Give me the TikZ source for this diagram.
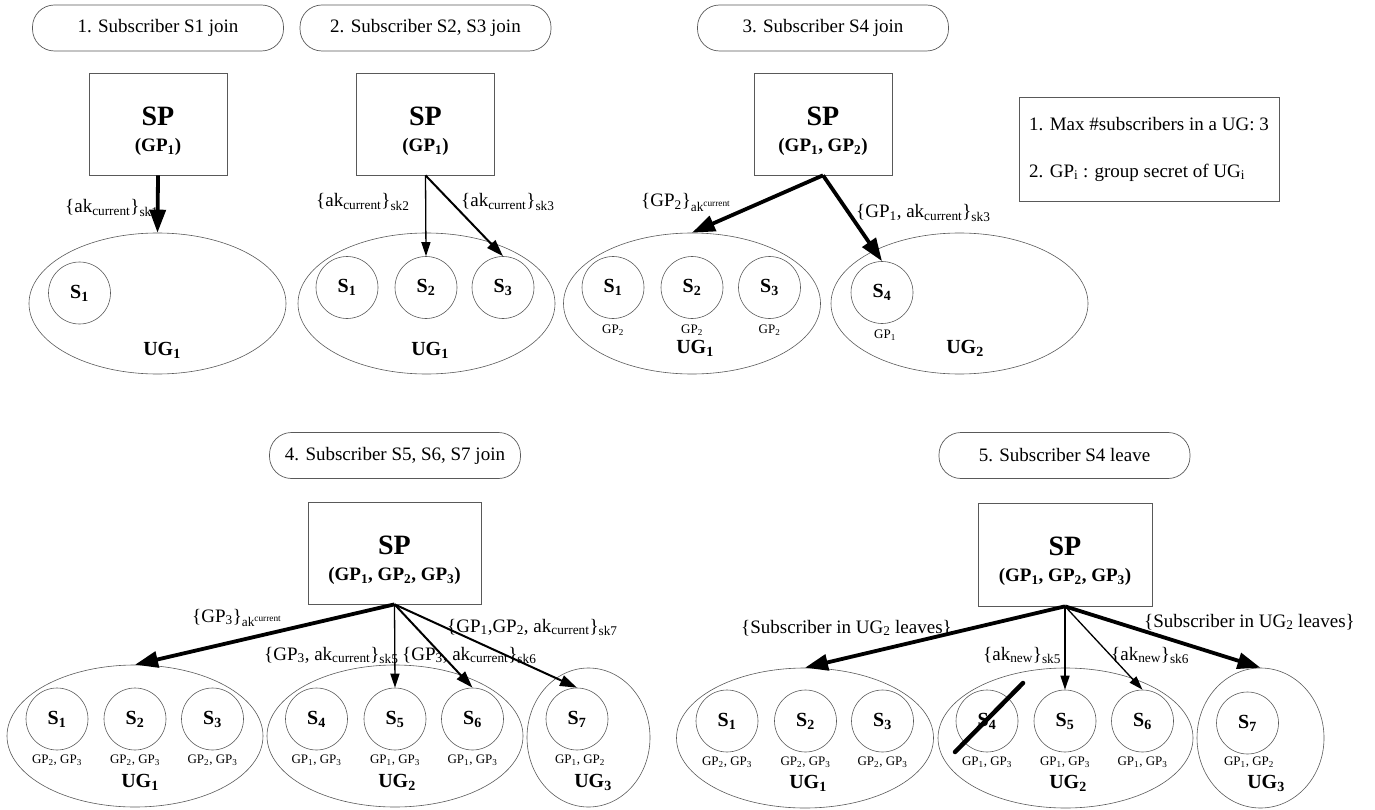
\documentclass[tikz,border=0pt]{standalone}
\usepackage{fontspec}
\setmainfont{Liberation Serif}
\usetikzlibrary{shapes.geometric,arrows.meta}

\begin{document}
\begin{tikzpicture}[x=1pt,y=-1pt,
	pill/.style={draw=black!65,line width=0.7pt,rounded corners=22pt,minimum width=251pt,minimum height=46pt,inner sep=0pt,font=\fontsize{19}{22}\selectfont},
	spbox/.style={draw=black!65,line width=0.7pt,minimum width=138pt,minimum height=102pt,inner sep=0pt,align=center,font=\fontsize{19}{22}\selectfont\bfseries},
	grp/.style={draw=black!65,line width=0.6pt,ellipse,inner sep=0pt,minimum width=257pt,minimum height=141pt},
	subsc/.style={draw=black!65,line width=0.6pt,circle,inner sep=0pt,minimum size=62pt,font=\fontsize{20}{22}\selectfont\bfseries},
	gp/.style={inner sep=0pt,font=\fontsize{13}{15}\selectfont},
	ug/.style={inner sep=0pt,font=\fontsize{20}{22}\selectfont\bfseries},
	lbl/.style={inner sep=0pt,anchor=base west,font=\fontsize{19}{22}\selectfont},
	msg/.style={line width=1.3pt,-{Triangle[length=14pt,width=9pt]}},
	msgmid/.style={line width=2pt,-{Triangle[length=17pt,width=11pt]}},
	msgbold/.style={line width=3.8pt,-{Triangle[length=23pt,width=16pt]}}]
\useasboundingbox (0,0) rectangle (1375,810);
\newcommand{\splabel}[1]{\rule{0pt}{33pt}{\fontsize{28}{30}\selectfont SP}\\[4pt](#1)}

%Panel 1: Subscriber S1 join
\node[pill] (t1) at (158,28) {1. Subscriber S1 join};
\node[spbox] (sp1) at (158,124) {\splabel{GP\textsubscript{1}}};
\node[grp] (a1ug1) at (157.5,303.5) {};
\node[subsc] (a1s1) at (79.5,293) {S\textsubscript{1}};
\node[ug] (a1u1) at (162,350) {UG\textsubscript{1}};
\node[lbl] (a1l1) at (65,213) {\{ak\textsubscript{current}\}\textsubscript{sk1}};
\draw[msgbold] (sp1.south) -- (a1ug1.north);

%Panel 2: Subscriber S2, S3 join
\node[pill] (t2) at (425.5,28) {2. Subscriber S2, S3 join};
\node[spbox] (sp2) at (425.5,124) {\splabel{GP\textsubscript{1}}};
\node[grp] (a2ug1) at (426.5,303.5) {};
\node[subsc] (a2s1) at (347,287.5) {S\textsubscript{1}};
\node[subsc] (a2s2) at (426,287.5) {S\textsubscript{2}};
\node[subsc] (a2s3) at (503,287.5) {S\textsubscript{3}};
\node[ug] (a2u1) at (430,350) {UG\textsubscript{1}};
\node[lbl] (a2l2) at (316,207) {\{ak\textsubscript{current}\}\textsubscript{sk2}};
\node[lbl] (a2l3) at (461,207) {\{ak\textsubscript{current}\}\textsubscript{sk3}};
\draw[msg] (sp2.south) -- (a2s2.north);
\draw[msgmid] (sp2.south) -- (a2s3.north);

%Panel 3: Subscriber S4 join
\node[pill] (t3) at (823,28) {3. Subscriber S4 join};
\node[spbox] (sp3) at (823,124) {\splabel{GP\textsubscript{1}, GP\textsubscript{2}}};
\node[grp] (a3ug1) at (692,303.5) {};
\node[grp] (a3ug2) at (959.5,303.5) {};
\node[subsc] (a3s1) at (613,287.5) {S\textsubscript{1}};
\node[subsc] (a3s2) at (692,287.5) {S\textsubscript{2}};
\node[subsc] (a3s3) at (769.5,287.5) {S\textsubscript{3}};
\node[subsc] (a3s4) at (882,292.5) {S\textsubscript{4}};
\node[gp] (a3g1) at (613,330) {GP\textsubscript{2}};
\node[gp] (a3g2) at (692,330) {GP\textsubscript{2}};
\node[gp] (a3g3) at (769.5,330) {GP\textsubscript{2}};
\node[gp] (a3g4) at (885,335) {GP\textsubscript{1}};
\node[ug] (a3u1) at (695,348) {UG\textsubscript{1}};
\node[ug] (a3u2) at (965,348) {UG\textsubscript{2}};
\node[lbl] (a3l1) at (641,207) {\{GP\textsubscript{2}\}\textsubscript{ak\textsuperscript{current}}};
\node[lbl] (a3l2) at (856,218) {\{GP\textsubscript{1}, ak\textsubscript{current}\}\textsubscript{sk3}};
\draw[msgbold] (sp3.south) -- (a3ug1.north);
\draw[msgbold] (sp3.south) -- (a3s4.north);

%Legend
\node[draw=black!65,line width=0.7pt,minimum width=260pt,minimum height=104pt,align=left,font=\fontsize{19}{22}\selectfont] (legend) at (1149,149)
	{1. Max \#subscribers in a UG: 3\\[25pt]2. GP\textsubscript{i} : group secret of UG\textsubscript{i}};

%Panel 4: Subscriber S5, S6, S7 join
\node[pill] (t4) at (395,455.5) {4. Subscriber S5, S6, S7 join};
\node[spbox,minimum width=173pt] (sp4) at (394.5,553) {\splabel{GP\textsubscript{1}, GP\textsubscript{2}, GP\textsubscript{3}}};
\node[grp,minimum width=256pt,minimum height=142pt] (a4ug1) at (135,736) {};
\node[grp,minimum width=256pt,minimum height=142pt] (a4ug2) at (395,736) {};
\node[grp,minimum width=123pt,minimum height=139pt] (a4ug3) at (588.5,737.5) {};
\node[subsc] (a4s1) at (57,719) {S\textsubscript{1}};
\node[subsc] (a4s2) at (135,719) {S\textsubscript{2}};
\node[subsc] (a4s3) at (212.5,719) {S\textsubscript{3}};
\node[subsc] (a4s4) at (316.5,719) {S\textsubscript{4}};
\node[subsc] (a4s5) at (395,719) {S\textsubscript{5}};
\node[subsc] (a4s6) at (472.5,719) {S\textsubscript{6}};
\node[subsc] (a4s7) at (577,719) {S\textsubscript{7}};
\node[gp] (a4g1) at (57,760) {GP\textsubscript{2}, GP\textsubscript{3}};
\node[gp] (a4g2) at (135,760) {GP\textsubscript{2}, GP\textsubscript{3}};
\node[gp] (a4g3) at (212.5,760) {GP\textsubscript{2}, GP\textsubscript{3}};
\node[gp] (a4g4) at (316.5,760) {GP\textsubscript{1}, GP\textsubscript{3}};
\node[gp] (a4g5) at (395,760) {GP\textsubscript{1}, GP\textsubscript{3}};
\node[gp] (a4g6) at (472.5,760) {GP\textsubscript{1}, GP\textsubscript{3}};
\node[gp] (a4g7) at (580,760) {GP\textsubscript{1}, GP\textsubscript{2}};
\node[ug] (a4u1) at (140,782) {UG\textsubscript{1}};
\node[ug] (a4u2) at (397,782) {UG\textsubscript{2}};
\node[ug] (a4u3) at (593,782) {UG\textsubscript{3}};
\node[lbl] (a4l1) at (192,622) {\{GP\textsubscript{3}\}\textsubscript{ak\textsuperscript{current}}};
\node[lbl] (a4l5) at (264,660) {\{GP\textsubscript{3}, ak\textsubscript{current}\}\textsubscript{sk5}};
\node[lbl] (a4l6) at (402,660) {\{GP\textsubscript{3}, ak\textsubscript{current}\}\textsubscript{sk6}};
\node[lbl] (a4l7) at (447,632) {\{GP\textsubscript{1},GP\textsubscript{2}, ak\textsubscript{current}\}\textsubscript{sk7}};
\draw[msgbold] (sp4.south) -- (a4ug1.north);
\draw[msg] (sp4.south) -- (a4s5.north);
\draw[msgmid] (sp4.south) -- (a4s6.north);
\draw[msgmid] (sp4.south) -- (a4s7.north);

%Panel 5: Subscriber S4 leave
\node[pill] (t5) at (1064.5,455.5) {5. Subscriber S4 leave};
\node[spbox,minimum width=174pt,minimum height=103pt] (sp5) at (1065,554.5) {\splabel{GP\textsubscript{1}, GP\textsubscript{2}, GP\textsubscript{3}}};
\node[grp,minimum height=140pt] (a5ug1) at (805,738) {};
\node[grp,minimum width=255pt,minimum height=140pt] (a5ug2) at (1065.5,738) {};
\node[grp,minimum width=127pt,minimum height=140pt] (a5ug3) at (1260.5,738) {};
\node[subsc] (a5s1) at (727,721) {S\textsubscript{1}};
\node[subsc] (a5s2) at (805.5,721) {S\textsubscript{2}};
\node[subsc] (a5s3) at (882.5,721) {S\textsubscript{3}};
\node[subsc] (a5s4) at (987,721) {S\textsubscript{4}};
\node[subsc] (a5s5) at (1065,721) {S\textsubscript{5}};
\node[subsc] (a5s6) at (1142.5,721) {S\textsubscript{6}};
\node[subsc] (a5s7) at (1247.5,723) {S\textsubscript{7}};
\node[gp] (a5g1) at (727,762) {GP\textsubscript{2}, GP\textsubscript{3}};
\node[gp] (a5g2) at (805.5,762) {GP\textsubscript{2}, GP\textsubscript{3}};
\node[gp] (a5g3) at (882.5,762) {GP\textsubscript{2}, GP\textsubscript{3}};
\node[gp] (a5g4) at (987,762) {GP\textsubscript{1}, GP\textsubscript{3}};
\node[gp] (a5g5) at (1065,762) {GP\textsubscript{1}, GP\textsubscript{3}};
\node[gp] (a5g6) at (1142.5,762) {GP\textsubscript{1}, GP\textsubscript{3}};
\node[gp] (a5g7) at (1249,762) {GP\textsubscript{1}, GP\textsubscript{2}};
\node[ug] (a5u1) at (808,783) {UG\textsubscript{1}};
\node[ug] (a5u2) at (1068,783) {UG\textsubscript{2}};
\node[ug] (a5u3) at (1266,783) {UG\textsubscript{3}};
\node[lbl] (a5l1) at (741,633) {\{Subscriber in UG\textsubscript{2} leaves\}};
\node[lbl] (a5l3) at (1144,627) {\{Subscriber in UG\textsubscript{2} leaves\}};
\node[lbl] (a5l5) at (983,660) {\{ak\textsubscript{new}\}\textsubscript{sk5}};
\node[lbl] (a5l6) at (1111,660) {\{ak\textsubscript{new}\}\textsubscript{sk6}};
\draw[msgbold] (sp5.south) -- (a5ug1.north);
\draw[msg] (sp5.south) -- (a5s5.north);
\draw[msg] (sp5.south) -- (a5s6.north);
\draw[msgbold] (sp5.south) -- (a5ug3.north);
%Straight Lines: S4 struck out
\draw[line width=4.5pt,line cap=round] (955,752) -- (1023,683);
\end{tikzpicture}
\end{document}
